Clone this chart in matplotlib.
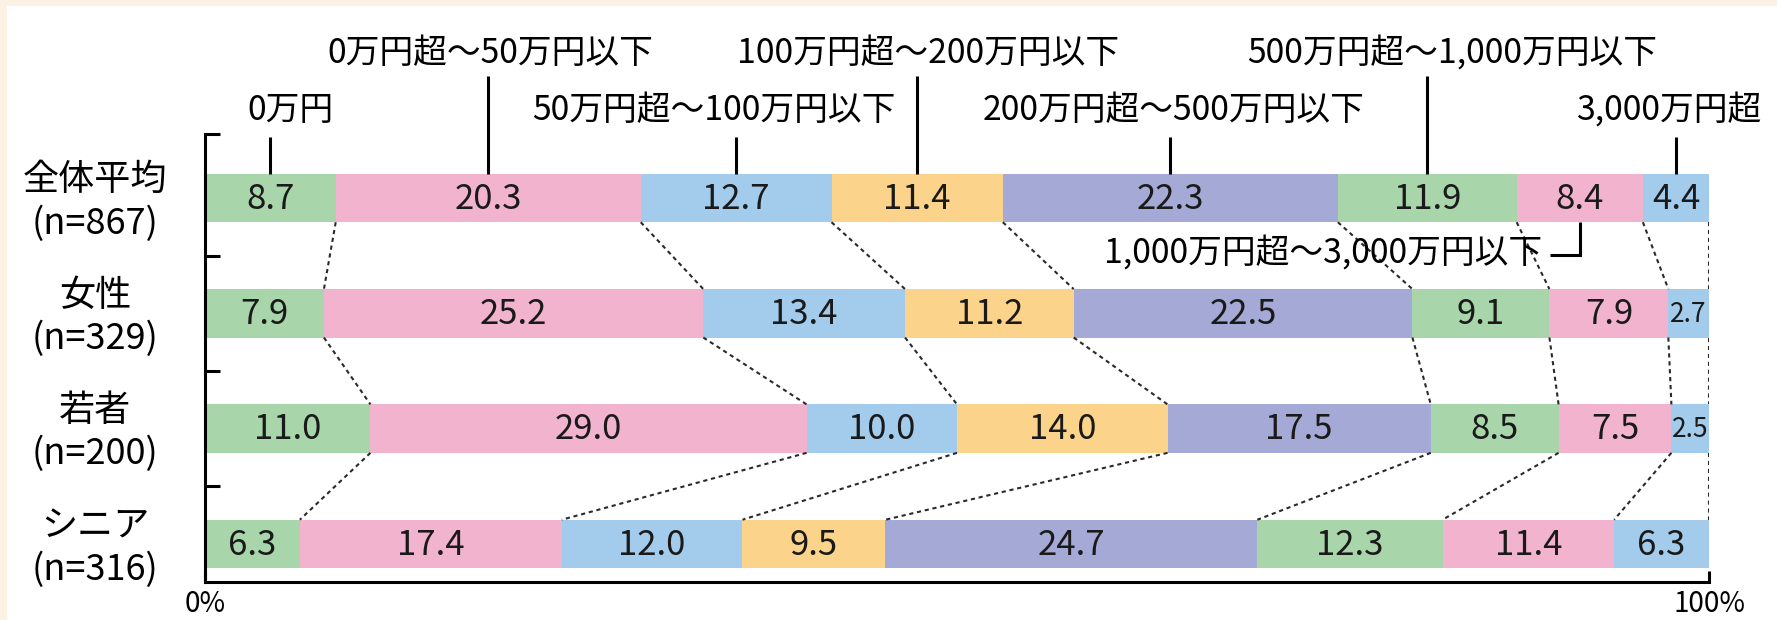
import matplotlib.pyplot as plt
import numpy as np
from matplotlib.patches import Rectangle

plt.rcParams['font.family'] = ['Noto Sans CJK JP', 'DejaVu Sans']

# ======================
# DATA
# ======================
groups = ['全体平均\n(n=867)', '女性\n(n=329)', '若者\n(n=200)', 'シニア\n(n=316)']
brackets = ['0万円', '0万円超～50万円以下', '50万円超～100万円以下', '100万円超～200万円以下',
            '200万円超～500万円以下', '500万円超～1,000万円以下',
            '1,000万円超～3,000万円以下', '3,000万円超']
values = np.array([
    [8.7, 20.3, 12.7, 11.4, 22.3, 11.9, 8.4, 4.4],
    [7.9, 25.2, 13.4, 11.2, 22.5, 9.1, 7.9, 2.7],
    [11.0, 29.0, 10.0, 14.0, 17.5, 8.5, 7.5, 2.5],
    [6.3, 17.4, 12.0, 9.5, 24.7, 12.3, 11.4, 6.3],
])
colors = ['#a8d5aa', '#f2b3cf', '#a3cbeb', '#fbd38a', '#a4a9d5', '#a8d5aa', '#f2b3cf', '#a3cbeb']

# label layout for the top legend (x in %, level 0 = upper row, 1 = lower row)
label_x = [5.65, 18.95, 33.8, 48.1, 64.4, 82.9, None, 97.3]
label_level = [1, 0, 1, 0, 1, 0, None, 1]

# ======================
# FIGURE
# ======================
fig = plt.figure(figsize=(17.77, 6.2), dpi=100, facecolor='#fcf2e4')
bg = Rectangle((7 / 1777, 0), 1, 1 - 6 / 620, transform=fig.transFigure,
               facecolor='white', edgecolor='none', zorder=-10)
fig.add_artist(bg)
ax = fig.add_axes([205 / 1777, 38 / 620, 1504 / 1777, 448 / 620])
ax.set_zorder(1)
ax.set_facecolor('none')

widths = values / values.sum(axis=1, keepdims=True) * 100
lefts = np.cumsum(widths, axis=1) - widths
h = 0.42
rows = np.arange(len(groups))

for i in rows:
    for j in range(len(brackets)):
        ax.barh(i, widths[i, j], left=lefts[i, j], height=h, color=colors[j], edgecolor='none')
        fs = 25 if values[i, j] >= 3 else 19
        ax.text(lefts[i, j] + widths[i, j] / 2, i + 0.01, f'{values[i, j]:.1f}',
                ha='center', va='center', fontsize=fs, color='#1a1a1a')
    ax.text(-7.3, i + 0.035, groups[i], ha='center', va='center', fontsize=26,
            linespacing=1.25, clip_on=False)

# dashed connectors between bars
ends = lefts + widths
for i in rows[:-1]:
    for j in range(len(brackets)):
        ax.plot([ends[i, j], ends[i + 1, j]], [i + h / 2, i + 1 - h / 2],
                color='#2a2a2a', lw=1.5, dashes=(2, 1.8), zorder=1)

# top labels with leaders
centers = lefts[0] + widths[0] / 2
lvl_text_y = [-1.257, -0.763]
lvl_line_top = [-1.058, -0.529]
for j, name in enumerate(brackets):
    if label_x[j] is None:
        continue
    lv = label_level[j]
    ax.plot([centers[j], centers[j]], [lvl_line_top[lv], -h / 2], color='black', lw=2.2,
            clip_on=False, solid_capstyle='butt')
    ax.text(label_x[j], lvl_text_y[lv], name, ha='center', va='center', fontsize=24.3, clip_on=False)

# elbow label below first bar
ax.plot([89.4, centers[6], centers[6]], [0.494, 0.494, h / 2], color='black', lw=2.2,
        solid_capstyle='butt', solid_joinstyle='miter')
ax.text(88.9, 0.48, brackets[6], ha='right', va='center', fontsize=24.3)

# axes
ax.set_xlim(0, 100)
ax.set_ylim(3.33, -0.555)
for s in ['top', 'right']:
    ax.spines[s].set_visible(False)
for s in ['left', 'bottom']:
    ax.spines[s].set_linewidth(2.2)
ax.set_yticks([-0.555, 0.5, 1.5, 2.5])
ax.set_yticklabels([])
ax.tick_params(axis='y', direction='in', length=11, width=2.2)
ax.set_xticks([0, 100])
ax.set_xticklabels(['0%', '100%'], fontsize=20)
ax.tick_params(axis='x', direction='in', length=8, width=2.2, pad=5)

fig.savefig('out.png', dpi=100, facecolor=fig.get_facecolor())
